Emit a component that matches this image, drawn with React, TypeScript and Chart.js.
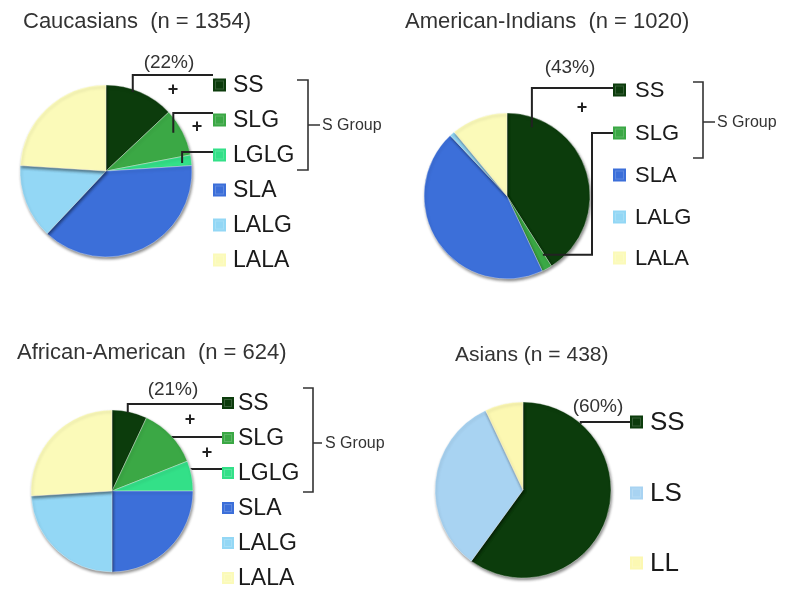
import React, { useEffect, useRef } from "react";
import { Chart, registerables } from "chart.js";

Chart.register(...registerables);

const FONT = '"Liberation Sans", Arial, Helvetica, sans-serif';

// ---- data ----
const caucasianLabels = ["SS", "SLG", "LGLG", "SLA", "LALG", "LALA"];
const caucasianValues = [13, 9, 2, 38, 14, 24];

const amerIndianLabels = ["SS", "SLG", "SLA", "LALG", "LALA"];
const amerIndianValues = [41, 2, 45, 1, 11];

const africanLabels = ["SS", "SLG", "LGLG", "SLA", "LALG", "LALA"];
const africanValues = [7, 12, 6, 25, 24, 26];

const asianLabels = ["SS", "LS", "LL"];
const asianValues = [60, 33, 7];

const titles = [
  "Caucasians  (n = 1354)",
  "American-Indians  (n = 1020)",
  "African-American  (n = 624)",
  "Asians (n = 438)",
];
const groupPercents = ["(22%)", "(43%)", "(21%)", "(60%)"];
const groupLabel = "S Group";

const colorByLabel: Record<string, string> = {
  SS: "#0c3c0c",
  SLG: "#3ba845",
  LGLG: "#33e088",
  SLA: "#3c6fd9",
  LALG: "#93d7f5",
  LALA: "#fbfab9",
  LS: "#a8d3f2",
  LL: "#fcf8b2",
};

// ---- layout (panel-local pixel positions) ----
interface Leader { slice: number; t: number; r: number; viaX?: number; elbowY: number; }
interface Panel {
  left: number; top: number; width: number; height: number;
  labels: string[]; values: number[];
  title: string; titleX: number; titleY: number; titleSize: number;
  cx: number; cy: number; r: number;
  markerX: number; markerSize: number; textX: number; rows: number[]; legendFont: number;
  bracket?: { x: number; y1: number; y2: number; ym: number; tick: number; midTo: number; textX: number };
  pct: { text: string; x: number; y: number };
  leaders: Leader[];
  pluses: [number, number][];
}

const panels: Panel[] = [
  {
    left: 0, top: 0, width: 400, height: 300,
    labels: caucasianLabels, values: caucasianValues,
    title: titles[0], titleX: 23, titleY: 22, titleSize: 22,
    cx: 106, cy: 171, r: 86,
    markerX: 213, markerSize: 13, textX: 233, rows: [85, 120, 155, 190, 225, 260], legendFont: 23,
    bracket: { x: 308, y1: 80, y2: 170, ym: 125, tick: 11, midTo: 320, textX: 322 },
    pct: { text: groupPercents[0], x: 169, y: 63 },
    leaders: [
      { slice: 0, t: 0.4, r: 0.97, elbowY: 75 },
      { slice: 1, t: 0.42, r: 0.9, elbowY: 113 },
      { slice: 2, t: 0.67, r: 0.89, elbowY: 152 },
    ],
    pluses: [[173, 90], [197, 127]],
  },
  {
    left: 400, top: 0, width: 400, height: 300,
    labels: amerIndianLabels, values: amerIndianValues,
    title: titles[1], titleX: 5, titleY: 22, titleSize: 22,
    cx: 107, cy: 196, r: 83,
    markerX: 213, markerSize: 13, textX: 235, rows: [90, 133, 175, 217, 258], legendFont: 22,
    bracket: { x: 303, y1: 82, y2: 158, ym: 122, tick: 10, midTo: 315, textX: 317 },
    pct: { text: groupPercents[1], x: 170, y: 68 },
    leaders: [
      { slice: 0, t: 0.135, r: 0.88, elbowY: 88 },
      { slice: 1, t: 0.14, r: 0.83, viaX: 192, elbowY: 133 },
    ],
    pluses: [[182, 108]],
  },
  {
    left: 0, top: 300, width: 400, height: 301,
    labels: africanLabels, values: africanValues,
    title: titles[2], titleX: 17, titleY: 53, titleSize: 22,
    cx: 112, cy: 191, r: 81,
    markerX: 222, markerSize: 12, textX: 238, rows: [103, 138, 173, 208, 243, 278], legendFont: 23,
    bracket: { x: 313, y1: 88, y2: 192, ym: 143, tick: 10, midTo: 322, textX: 325 },
    pct: { text: groupPercents[2], x: 173, y: 90 },
    leaders: [
      { slice: 0, t: 0.45, r: 0.99, elbowY: 104 },
      { slice: 1, t: 0.54, r: 1.0, elbowY: 137 },
      { slice: 2, t: 0.29, r: 1.02, elbowY: 169 },
    ],
    pluses: [[190, 120], [207, 153]],
  },
  {
    left: 400, top: 300, width: 400, height: 301,
    labels: asianLabels, values: asianValues,
    title: titles[3], titleX: 55, titleY: 55, titleSize: 21,
    cx: 123, cy: 190, r: 88,
    markerX: 230, markerSize: 13, textX: 250, rows: [122, 193, 263], legendFont: 26,
    pct: { text: groupPercents[3], x: 198, y: 107 },
    leaders: [{ slice: 0, t: 0.19, r: 1.0, elbowY: 122 }],
    pluses: [],
  },
];

function PiePanel({ p }: { p: Panel }) {
  const ref = useRef<HTMLCanvasElement | null>(null);
  useEffect(() => {
    if (!ref.current) return;
    const overlay = {
      id: "overlay",
      beforeDatasetsDraw(chart: any) {
        const ctx = chart.ctx;
        ctx.save();
        ctx.shadowColor = "rgba(0,0,0,0.45)";
        ctx.shadowBlur = 3;
        ctx.shadowOffsetX = 1;
        ctx.shadowOffsetY = 2;
      },
      afterDatasetsDraw(chart: any) {
        chart.ctx.restore();
      },
      afterDraw(chart: any) {
        const ctx: CanvasRenderingContext2D = chart.ctx;
        ctx.save();
        ctx.textAlign = "left";
        ctx.textBaseline = "middle";
        // title
        ctx.fillStyle = "#333333";
        ctx.font = `${p.titleSize}px ${FONT}`;
        ctx.fillText(p.title, p.titleX, p.titleY);
        // legend
        const bg = chart.data.datasets[0].backgroundColor as string[];
        (chart.data.labels as string[]).forEach((lab, i) => {
          const y = p.rows[i];
          const s = p.markerSize;
          ctx.fillStyle = bg[i];
          ctx.fillRect(p.markerX, y - s / 2, s, s);
          ctx.strokeStyle = "rgba(255,255,255,0.18)";
          ctx.lineWidth = 1;
          ctx.strokeRect(p.markerX + 2.5, y - s / 2 + 2.5, s - 5, s - 5);
          ctx.fillStyle = "#1a1a1a";
          ctx.font = `${p.legendFont}px ${FONT}`;
          ctx.fillText(lab, p.textX, y + 1);
        });
        // leader lines
        const meta = chart.getDatasetMeta(0);
        ctx.strokeStyle = "#222222";
        ctx.lineWidth = 2;
        p.leaders.forEach((l) => {
          const arc: any = meta.data[l.slice];
          const { startAngle, endAngle, outerRadius, x, y } = arc.getProps(
            ["startAngle", "endAngle", "outerRadius", "x", "y"], true);
          const a = startAngle + l.t * (endAngle - startAngle);
          const ax = x + Math.cos(a) * outerRadius * l.r;
          const ay = y + Math.sin(a) * outerRadius * l.r;
          ctx.beginPath();
          ctx.moveTo(ax, ay);
          let vx = ax;
          if (l.viaX !== undefined) { ctx.lineTo(l.viaX, ay); vx = l.viaX; }
          ctx.lineTo(vx, l.elbowY);
          ctx.lineTo(p.markerX, l.elbowY);
          ctx.stroke();
        });
        // plus signs
        ctx.fillStyle = "#222222";
        ctx.font = `bold 18px ${FONT}`;
        ctx.textAlign = "center";
        p.pluses.forEach(([px, py]) => ctx.fillText("+", px, py));
        // percent
        ctx.fillStyle = "#333333";
        ctx.font = `19px ${FONT}`;
        ctx.fillText(p.pct.text, p.pct.x, p.pct.y);
        // bracket
        if (p.bracket) {
          const b = p.bracket;
          ctx.strokeStyle = "#333333";
          ctx.lineWidth = 1.6;
          ctx.beginPath();
          ctx.moveTo(b.x - b.tick, b.y1);
          ctx.lineTo(b.x, b.y1);
          ctx.lineTo(b.x, b.y2);
          ctx.lineTo(b.x - b.tick, b.y2);
          ctx.moveTo(b.x, b.ym);
          ctx.lineTo(b.midTo, b.ym);
          ctx.stroke();
          ctx.textAlign = "left";
          ctx.fillStyle = "#333333";
          ctx.font = `16px ${FONT}`;
          ctx.fillText(groupLabel, b.textX, b.ym + 1);
        }
        ctx.restore();
      },
    };
    const chart = new Chart(ref.current, {
      type: "pie",
      data: {
        labels: p.labels,
        datasets: [{
          data: p.values,
          backgroundColor: p.labels.map((l) => colorByLabel[l]),
          borderColor: "rgba(255,255,255,0.35)",
          borderWidth: 1,
          radius: p.r,
        } as any],
      },
      options: {
        responsive: false,
        animation: false,
        layout: {
          padding: {
            left: p.cx - p.r,
            right: p.width - p.cx - p.r,
            top: p.cy - p.r,
            bottom: p.height - p.cy - p.r,
          },
        },
        plugins: { legend: { display: false }, tooltip: { enabled: false } },
      },
      plugins: [overlay],
    });
    return () => chart.destroy();
  }, [p]);
  return (
    <canvas
      ref={ref}
      width={p.width}
      height={p.height}
      style={{ position: "absolute", left: p.left, top: p.top, width: p.width, height: p.height }}
    />
  );
}

export default function App() {
  return (
    <div style={{ position: "absolute", left: 0, top: 0, width: 800, height: 601, background: "#ffffff", overflow: "hidden" }}>
      {panels.map((p, i) => <PiePanel key={i} p={p} />)}
    </div>
  );
}
